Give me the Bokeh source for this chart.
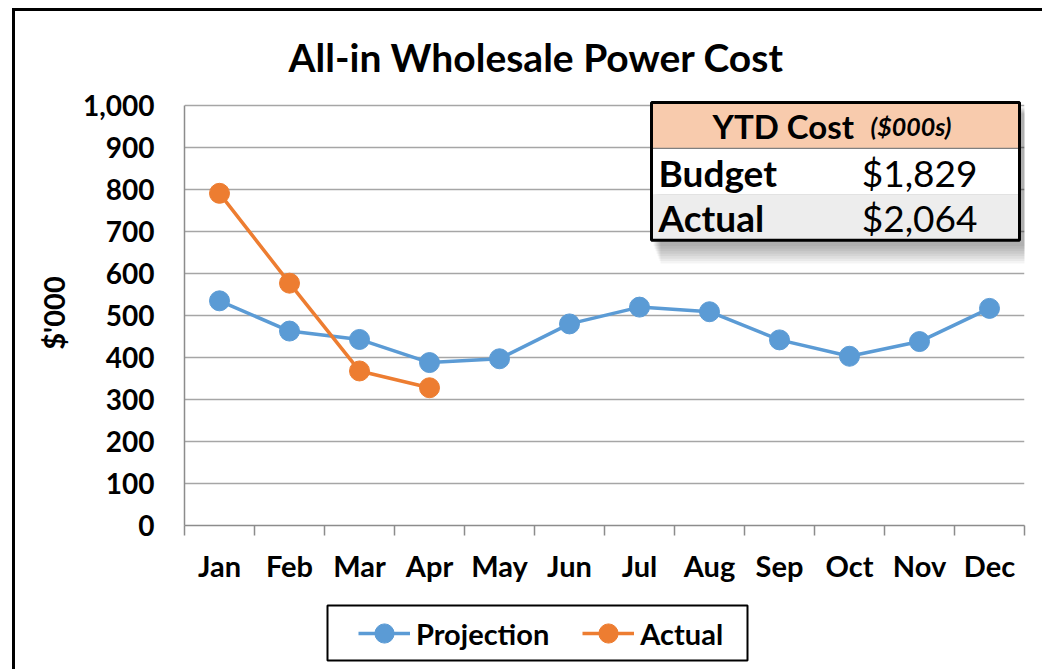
from bokeh.plotting import figure
from bokeh.layouts import column
from bokeh.models import (Range1d, LinearAxis, FixedTicker, Title,
                          NumeralTickFormatter, Label, BoxAnnotation, Legend, LegendItem,
                          ColumnDataSource)
from bokeh.embed import file_html
from bokeh.resources import INLINE

# ---------------- data ----------------
months = ["Jan", "Feb", "Mar", "Apr", "May", "Jun", "Jul", "Aug", "Sep", "Oct", "Nov", "Dec"]
projection = [535, 463, 443, 388, 397, 480, 520, 509, 442, 403, 438, 517]
actual = [791, 577, 368, 328]
y_ticks = [0, 100, 200, 300, 400, 500, 600, 700, 800, 900, 1000]
title_text = "All-in Wholesale Power Cost"
y_title = "$'000"
series_names = ["Projection", "Actual"]
ytd_title = "YTD Cost"
ytd_unit = "($000s)"
ytd_rows = ["Budget", "Actual"]
ytd_values = ["$1,829", "$2,064"]

# ---------------- style ----------------
FONT = "Lato"
BLUE = "#5B9BD5"
ORANGE = "#ED7D31"
GRID = "#A6A6A6"
AXIS = "#8C8C8C"

OX, OY = 15, 11                      # page offset of the layout
W, H = 1030, 584                     # main figure
LH = 77                              # legend strip figure height
YMAX = 1012                          # a little headroom for the YTD table
PX_PER_UNIT = 421 / 1000.0
FL, FW = 184 - OX, 840
FH = round(YMAX * PX_PER_UNIT)
FT = (525 - OY) - FH

n = len(months)
centers = [i + 0.5 for i in range(n)]

p = figure(width=W, height=H, x_range=Range1d(0, n), y_range=Range1d(0, YMAX),
           output_backend="svg", toolbar_location=None, x_axis_location=None,
           min_border_left=FL, min_border_top=FT,
           min_border_right=W - FL - FW, min_border_bottom=H - FT - FH)
p.outline_line_color = None
p.background_fill_color = "white"
p.border_fill_color = "white"

def nx(px):
    return (px - (OX + FL)) / FW * n

def ny(py):
    return ((OY + FT + FH) - py) / FH * YMAX

# title
p.title = Title(text=title_text, align="left", offset=104, text_font=FONT,
                text_font_style="bold", text_font_size="39px", text_color="black",
                standoff=41)

# grid
p.xgrid.grid_line_color = None
p.ygrid.grid_line_color = GRID
p.ygrid.grid_line_width = 1.5
p.ygrid.ticker = FixedTicker(ticks=y_ticks)

# y axis
ya = p.yaxis[0]
ya.ticker = FixedTicker(ticks=y_ticks)
ya.bounds = (y_ticks[0], y_ticks[-1])
ya.formatter = NumeralTickFormatter(format="0,0")
ya.major_tick_out = 0
ya.major_tick_in = 0
ya.minor_tick_line_color = None
ya.axis_line_color = AXIS
ya.axis_line_width = 1.5
ya.major_label_text_font = FONT
ya.major_label_text_font_style = "bold"
ya.major_label_text_font_size = "28px"
ya.major_label_text_color = "black"
ya.major_label_standoff = 30
ya.axis_label = y_title
ya.axis_label_text_font = FONT
ya.axis_label_text_font_style = "bold"
ya.axis_label_text_font_size = "29px"
ya.axis_label_text_color = "black"
ya.axis_label_standoff = 9

# bottom tick axis (ticks between categories)
tick_axis = LinearAxis(ticker=FixedTicker(ticks=list(range(n + 1))),
                       major_label_text_font_size="0px", major_label_text_color=None,
                       major_label_standoff=0, major_tick_out=10, major_tick_in=0,
                       major_tick_line_color=AXIS, major_tick_line_width=1.5,
                       minor_tick_line_color=None, axis_line_color=AXIS, axis_line_width=1.5)
p.add_layout(tick_axis, "below")

cat_axis = LinearAxis(ticker=FixedTicker(ticks=centers),
                      major_label_overrides={c: m for c, m in zip(centers, months)},
                      axis_line_color=None, major_tick_line_color=None,
                      minor_tick_line_color=None, major_tick_out=0, major_tick_in=0,
                      major_label_text_font=FONT, major_label_text_font_style="bold",
                      major_label_text_font_size="29px", major_label_text_color="black",
                      major_label_standoff=12)
p.add_layout(cat_axis, "below")

# series
src_p = ColumnDataSource(dict(x=centers, value=projection))
src_a = ColumnDataSource(dict(x=centers[:len(actual)], value=actual))
p.line("x", "value", source=src_p, line_color=BLUE, line_width=3.5)
p.scatter("x", "value", source=src_p, size=20, fill_color=BLUE, line_color=BLUE)
p.line("x", "value", source=src_a, line_color=ORANGE, line_width=3.5)
p.scatter("x", "value", source=src_a, size=20, fill_color=ORANGE, line_color=ORANGE)

# YTD table with shadow
TL, TR, TT, TB = 651, 1019, 101, 239
HB, RB = 147, 193
for k in range(8):
    p.add_layout(BoxAnnotation(left=nx(TL + 2 + k), right=nx(TR + 6 + 2.5 * k),
                               top=ny(TT + 4 + k), bottom=ny(TB + 6 + 2.5 * k),
                               fill_color="black", fill_alpha=0.045, line_color=None))
p.add_layout(BoxAnnotation(left=nx(TL), right=nx(TR), top=ny(TT), bottom=ny(HB),
                           fill_color="#F8CBAD", fill_alpha=1, line_color=None))
p.add_layout(BoxAnnotation(left=nx(TL), right=nx(TR), top=ny(HB), bottom=ny(RB),
                           fill_color="white", fill_alpha=1, line_color=None))
p.add_layout(BoxAnnotation(left=nx(TL), right=nx(TR), top=ny(RB), bottom=ny(TB),
                           fill_color="#EDEDED", fill_alpha=1, line_color=None))
p.add_layout(BoxAnnotation(left=nx(TL), right=nx(TR), top=ny(HB), bottom=ny(HB),
                           fill_alpha=0, line_color="#7F7F7F", line_alpha=1, line_width=1))
p.add_layout(BoxAnnotation(left=nx(TL), right=nx(TR), top=ny(TT), bottom=ny(TB),
                           fill_alpha=0, line_color="black", line_alpha=1, line_width=3))

SHIFT = 12   # Label baseline correction
p.add_layout(Label(x=nx(712), y=ny(137 - SHIFT), text=ytd_title,
                   text_align="left", text_baseline="alphabetic", text_font=FONT,
                   text_font_style="bold", text_font_size="33px", text_color="black"))
p.add_layout(Label(x=nx(870), y=ny(137 - SHIFT), text=ytd_unit,
                   text_align="left", text_baseline="alphabetic", text_font=FONT,
                   text_font_style="bold italic", text_font_size="25px", text_color="black"))
for i, (name, val) in enumerate(zip(ytd_rows, ytd_values)):
    base = 183 + 45 * i - SHIFT
    p.add_layout(Label(x=nx(658), y=ny(base), text=name,
                       text_align="left", text_baseline="alphabetic", text_font=FONT,
                       text_font_style="bold", text_font_size="37px", text_color="black"))
    p.add_layout(Label(x=nx(977), y=ny(base), text=val,
                       text_align="right", text_baseline="alphabetic", text_font=FONT,
                       text_font_style="normal", text_font_size="37px", text_color="black"))

# ---------------- legend strip (own figure, frame aligned with main frame) ----------------
LY0 = OY + H                         # page y of strip top
X0 = OX + FL                         # page x of frame left
lg = figure(width=W, height=LH, x_range=Range1d(X0, X0 + FW), y_range=Range1d(0, LH),
            output_backend="svg", toolbar_location=None,
            x_axis_location=None, y_axis_location=None,
            min_border_left=FL, min_border_right=W - FL - FW,
            min_border_top=0, min_border_bottom=0)
lg.outline_line_color = None
lg.xgrid.grid_line_color = None
lg.ygrid.grid_line_color = None
lg.border_fill_color = "white"
lg.background_fill_color = "white"

def lyy(py):
    return LH - (py - LY0)

lg.add_layout(BoxAnnotation(left=327, right=747, top=lyy(605), bottom=lyy(660),
                            fill_color="white", fill_alpha=1, line_color="black",
                            line_alpha=1, line_width=2))
# legend proxies carry the real series (they fall outside this strip's ranges)
r1 = [lg.line(centers, projection, line_color=BLUE, line_width=3.5),
      lg.scatter(centers, projection, size=20, fill_color=BLUE, line_color=BLUE)]
r2 = [lg.line(centers[:len(actual)], actual, line_color=ORANGE, line_width=3.5),
      lg.scatter(centers[:len(actual)], actual, size=20, fill_color=ORANGE, line_color=ORANGE)]
legend = Legend(items=[LegendItem(label=series_names[0], renderers=r1),
                       LegendItem(label=series_names[1], renderers=r2)],
                orientation="horizontal", location=(358 - X0, LH - (657 - LY0)),
                border_line_color=None, background_fill_alpha=0,
                label_text_font=FONT, label_text_font_style="bold", label_text_font_size="29px",
                label_text_color="black",
                glyph_width=52, glyph_height=48, label_standoff=6, spacing=33,
                padding=0, margin=0)
lg.add_layout(legend, "center")

layout = column(p, lg, spacing=0)
layout.styles = {"margin-left": f"{OX}px", "margin-top": f"{OY}px",
                 "box-shadow": "-3px -3px 0px 0px #000000"}

open("out.html", "w").write(file_html(layout, INLINE))
